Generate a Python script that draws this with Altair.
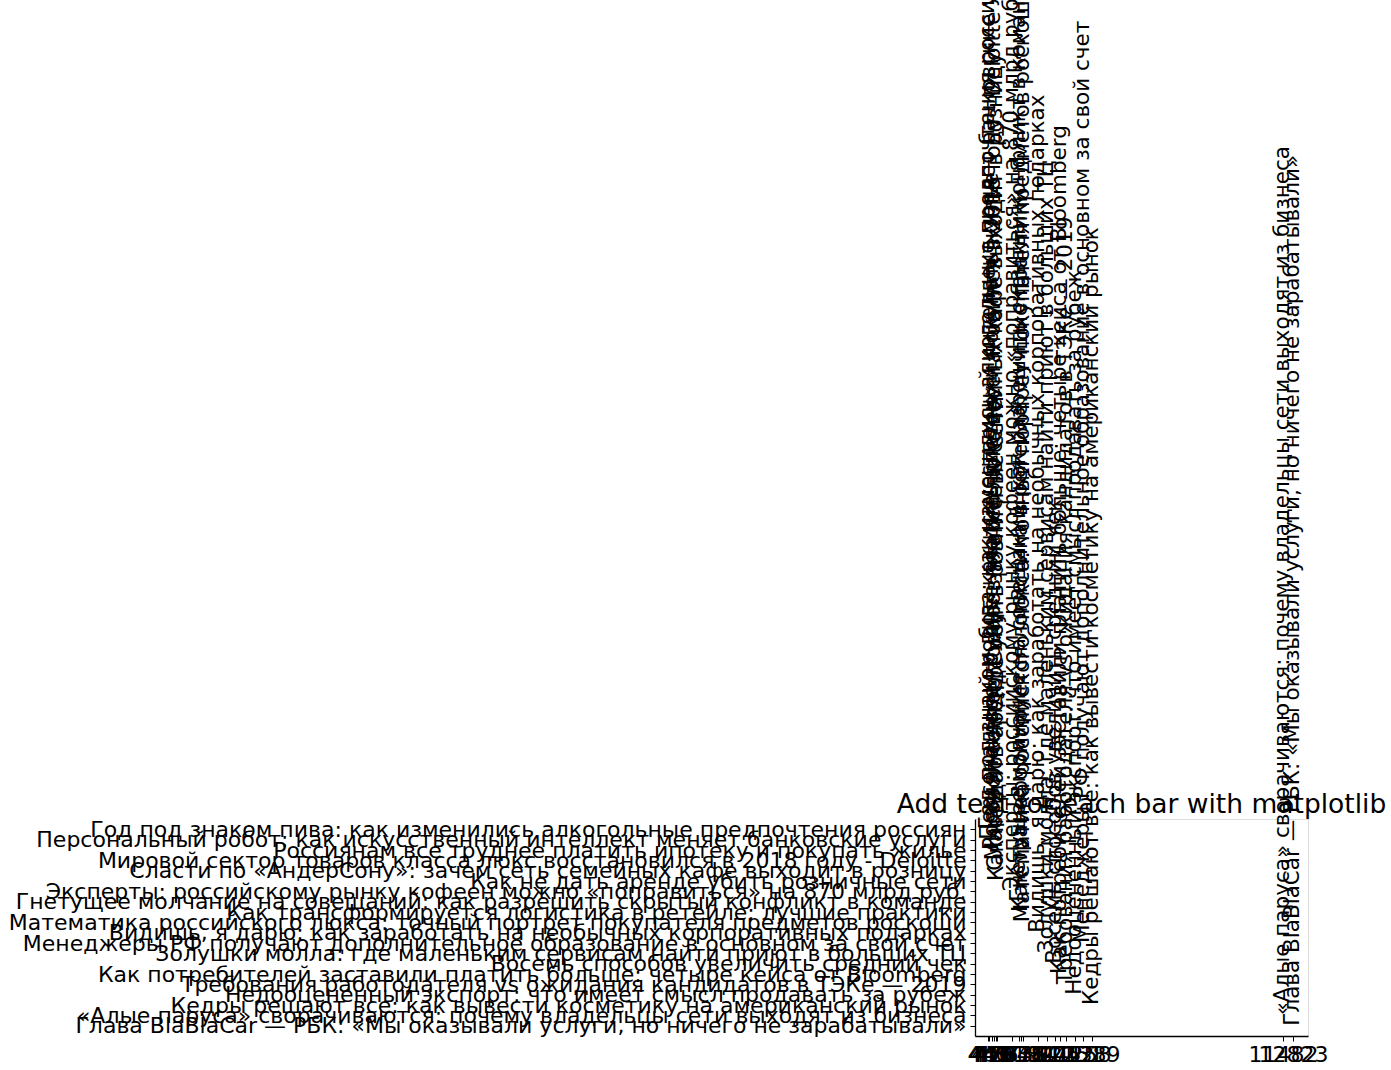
import altair as alt
import pandas as pd

# Titles as listed on the y axis, top to bottom
titles = [
    "Год под знаком пива: как изменились алкогольные предпочтения россиян",
    "Персональный робот: как искусственный интеллект меняет банковские услуги",
    "Россиянам все труднее платить ипотеку и покупать жилье",
    "Мировой сектор товаров класса люкс восстановился в 2018 году - Deloitte",
    "Сласти по «АндерСону»: зачем сеть семейных кафе выходит в розницу",
    "Как не дать аренде убить розничные сети",
    "Эксперты: российскому рынку кофеен можно «поправиться» на 870 млрд руб.",
    "Гнетущее молчание на совещаний: как разрешить скрытый конфликт в команде",
    "Как трансформируется логистика в ретейле: лучшие практики",
    "Математика российского люкса: точный портрет покупателя предметов роскоши",
    "Видишь, я дарю: как заработать на необычных корпоративных подарках",
    "Менеджеры РФ получают дополнительное образование в основном за свой счет",
    "Золушки молла: где маленьким сервисам найти приют в больших ТЦ",
    "Восемь способов увеличить средний чек",
    "Как потребителей заставили платить больше: четыре кейса от Bloomberg",
    "Требования работодателя vs ожидания кандидатов в ТЭКе — 2019",
    "Недооцененный экспорт: что имеет смысл продавать за рубеж",
    "Кедры решают все: как вывести косметику на американский рынок",
    "«Алые паруса» сворачиваются: почему владельцы сети выходят из бизнеса",
    "Глава BlaBlaCar — РБК: «Мы оказывали услуги, но ничего не зарабатывали»",
]

# Values (estimated from tick / label positions), same order
views = [440, 447, 459, 470, 478, 486, 573, 619, 633, 648,
         764, 1258, 844, 922, 975, 1042, 1151, 1389, 11482, 12823]

chart_title = ["Add text for each bar with matplotlib"]

x_domain = [381, 15140]
W, H = 333, 217

df = pd.DataFrame({"title": titles, "views": views})
tdf = pd.DataFrame({"t": chart_title})

FONT = "DejaVu Sans"

labels = alt.Chart(df).mark_text(
    angle=270, align="left", baseline="middle",
    fontSize=21.5, color="black", font=FONT
).encode(
    x=alt.X("views:Q",
            scale=alt.Scale(type="log", domain=x_domain, nice=False),
            axis=alt.Axis(values=views, format="d", title=None, grid=False,
                          labelOverlap=False, labelFlush=False, labelAngle=0,
                          labelFontSize=22, labelFont=FONT, labelColor="black",
                          tickSize=5, tickColor="black", labelPadding=3,
                          domainColor="black", domainWidth=1.3)),
    y=alt.Y("title:N", sort=titles,
            scale=alt.Scale(type="point", padding=1),
            axis=alt.Axis(title=None, labelOverlap=False, labelLimit=3000,
                          labelFontSize=22, labelFont=FONT, labelColor="black",
                          tickSize=5, tickColor="black", labelPadding=4,
                          domainColor="black", domainWidth=1.3, grid=False)),
    text="title:N",
)

title_mark = alt.Chart(tdf).mark_text(
    align="center", baseline="alphabetic", fontSize=26.5,
    color="black", font=FONT
).encode(
    x=alt.value(W / 2),
    y=alt.value(-6),
    text="t:N",
)

chart = alt.layer(title_mark, labels).properties(
    width=W,
    height=H,
    autosize=alt.AutoSizeParams(type="none"),
    padding={"left": 975, "top": 819, "right": 83, "bottom": 34},
).configure_view(
    stroke="black", strokeWidth=1.4
).configure(background="white")

chart.save("out.html", embed_options={"renderer": "svg", "actions": False})
